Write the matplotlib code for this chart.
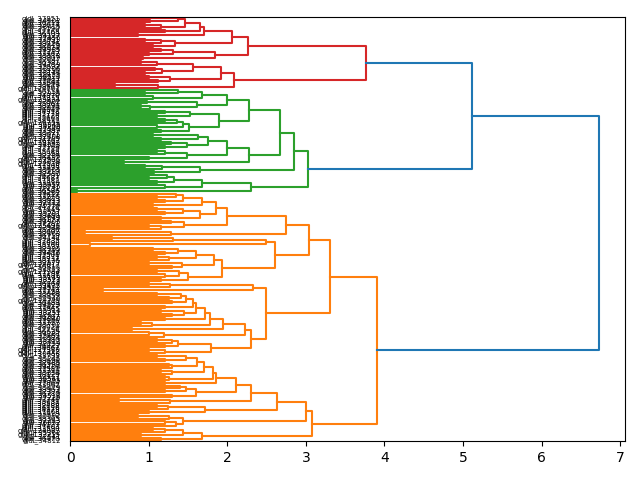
import numpy as np
import matplotlib
matplotlib.use("Agg")
import matplotlib.pyplot as plt

# merge heights.
# a node is [height, upper, lower]; a tuple is a run of leaves joined one
# after another at the given heights (() is one single leaf)
red = [3.77,
       [2.26,
        [2.06,
         [1.70, [1.65, [1.46, [1.37, (), (1.02,)], (0.95, 1.15)], (1.2,)], (0.86,)],
         [1.33, [1.16, (0.95,), ()], (1.05,)]],
        [1.84, [1.31, (1.16,), (1.0,)], (0.92,)]],
       [2.08,
        [1.92, [1.56, (0.9, 1.1), [1.17, (1.08,), (0.95,)]], [1.27, (1.0,), (1.12,)]],
        [1.12, (0.57,), ()]]]

green = [3.03,
         [2.85,
          [2.67,
           [2.28,
            [2.0, [1.67, [1.37, (), (0.95,)], (1.05,)], [1.61, (0.98,), (0.9, 1.02)]],
            [1.89, [1.52, (1.2,), (1.1,)],
             [1.51, [1.43, [1.36, (1.2,), ()], (1.1,)], (1.15,)]]],
           [2.28,
            [2.0,
             [1.75, [1.63, (1.05,), (1.15,)], [1.49, (1.28,), (1.2,)]],
             [1.49, (1.1, 1.2), (1.0,)]],
            (0.68,)]],
          [1.65, (0.95, 1.17), (1.06,)]],
         [2.30, [1.68, [1.32, [1.23, (), (1.0,)], (1.1,)], (1.2,)], (0.08,)]]

orange_top = [3.31,
              [3.04,
               [2.74,
                [2.0,
                 [1.85,
                  [1.68, [1.44, [1.35, (), (1.1,)], (1.2,)], (1.05,)],
                  [1.65, [1.43, (1.1,), (1.2,)], (1.15,)]],
                 [1.45, (1.28,), (1.0, 1.15)]],
                [1.28, (0.18,), ()]],
               [2.60,
                [2.49, [1.31, (0.53,), ()], (0.25,)],
                [1.93,
                 [1.83, [1.60, [1.37, (1.05,), (1.2,)], (1.1, 1.25)], [1.42, (1.0,), (1.3,)]],
                 [1.50, [1.38, (1.1,), (1.2,)], (1.15,)]]]],
              [2.49,
               [2.32, [1.27, (1.0,), ()], (0.42,)],
               [2.30,
                [2.22,
                 [1.94,
                  [1.78,
                   [1.71,
                    [1.60,
                     [1.56, [1.47, [1.41, (1.1,), (1.25,)], (1.3,)], (1.2,)],
                     [1.45, (1.15,), (1.3,)]],
                    (1.2,)],
                   (0.9, 1.04)],
                  (0.78,)],
                 (1.0, 1.19)],
                [1.79, [1.37, [1.3, (1.1,), ()], (1.2,)], (1.0, 1.2)]]]]

orange_bottom = [3.08,
                 [3.0,
                  [2.63,
                   [2.30,
                    [2.11,
                     [1.85, [1.81, [1.70, [1.61, [1.47, (1.1,), (1.2,)], (1.25, 1.3)],
                                    (1.15, 1.3)], (1.2, 1.25)], (1.2,)],
                     [1.60, [1.47, (1.4,), (1.2,)], (1.3,)]],
                    [1.27, (0.62,), ()]],
                   [1.72, [1.24, (1.1,), ()], (1.0,)]],
                  [1.44, [1.25, (0.86,), ()], (1.2, 1.35)]],
                 [1.68, [1.43, (1.05, 1.2), (0.9,)], (1.15,)]]

tree = [6.73, [5.11, red, green], [3.91, orange_top, orange_bottom]]

leaf_ids = [37851, 34602, 36219, 33074, 38415, 35190, 32768, 36903, 34127, 37456,
            33891, 35742, 38026, 32519, 36674, 34985, 37233, 33362, 35518, 38807,
            32047, 36381, 34759, 37692, 33205, 35936, 38144, 32873, 36520, 34411,
            37087, 33648, 35274, 38563, 124561, 36118, 32935, 34870, 37315, 129834,
            33502, 35861, 38290, 32654, 36047, 34318, 37779, 33126, 35603, 38932,
            126753, 36845, 34206, 37540, 33987, 35327, 38671, 32408, 131205, 36762,
            118342, 34553, 37164, 33719, 35089, 38358, 32286, 36437, 127906, 34034,
            122518, 37908, 33433, 35665, 38219, 32590, 36291, 34687, 37382, 33810,
            35457, 38745, 32131, 36586, 34262, 37627, 33276, 35823, 38093, 32712,
            36954, 34378, 37049, 33557, 35201, 38480, 32849, 36173, 34905, 37281,
            125490, 33944, 35386, 38602, 32463, 36718, 34141, 37835, 33090, 35760,
            38337, 32995, 36349, 34476, 37506, 33371, 35937, 38176, 32577, 128617,
            36810, 34723, 121984, 37198, 33681, 35149, 38521, 32218, 36064, 133472,
            34592, 37743, 33238, 35588, 38859, 32340, 119725, 36489, 34029, 37417,
            33865, 35314, 38251, 32621, 36207, 34840, 37956, 33157, 35702, 38074,
            32796, 36635, 34287, 37069, 33524, 35980, 38412, 32159, 36923, 34661,
            127340, 37312, 130658, 33793, 35245, 38696, 32485, 36398, 34104, 37581,
            33310, 35854, 38129, 32917, 36541, 34395, 37864, 33062, 35479, 38963,
            32374, 36780, 34518, 37225, 33746, 35031, 38580, 32688, 36116, 34979,
            37668, 33419, 35692, 38305, 32253, 36852, 34177, 37003, 33590, 124087,
            35362, 132215, 32541, 36470, 34812, 88334]
leaf_labels = ["gjdl_%d" % i for i in leaf_ids]

cluster_colors = ["C3", "C2", "C1"]
above_color = "C0"
threshold = 0.7 * tree[0]

links = []
count = [0]
colors = iter(cluster_colors)


def new_leaf():
    y = 10 * count[0] + 5
    count[0] += 1
    return y


def walk(node, color=None):
    if isinstance(node, tuple):
        y, h = new_leaf(), 0.0
        for hh in node:
            y2 = new_leaf()
            links.append(([h, hh, hh, 0.0], [y, y, y2, y2], color))
            y, h = (y + y2) / 2, hh
        return y, h
    h, a, b = node
    if h > threshold:
        link, sub = above_color, None
    else:
        if color is None:
            color = next(colors)
        link = sub = color
    ya, ha = walk(a, sub)
    yb, hb = walk(b, sub)
    links.append(([ha, h, h, hb], [ya, ya, yb, yb], link))
    return (ya + yb) / 2, h


walk(tree)
n = count[0]

fig, ax = plt.subplots(figsize=(6.4, 4.8), dpi=100)
for xs, ys, c in links:
    ax.plot(xs, ys, color=c, lw=1.5)

ax.set_xlim(0, tree[0] * 1.05)
ax.set_ylim(10 * n, 0)
ax.set_yticks(np.arange(n) * 10 + 5)
ax.set_yticklabels(leaf_labels[:n], fontsize=5)
for t in ax.get_yticklines():
    t.set_visible(False)

plt.subplots_adjust(left=0.11, right=0.977, top=0.965, bottom=0.081)
plt.savefig("out.png")
